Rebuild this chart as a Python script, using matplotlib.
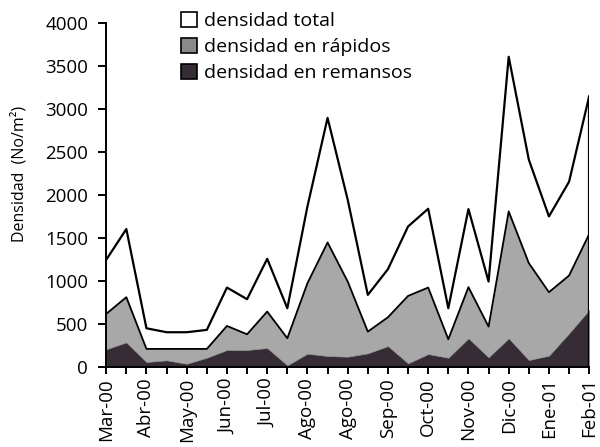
import numpy as np
import matplotlib.pyplot as plt
from matplotlib.patches import Patch

plt.rcParams['font.family'] = ['Open Sans', 'DejaVu Sans']

# fechas de muestreo (etiqueta cada dos muestras)
etiquetas = ['Mar-00', 'Abr-00', 'May-00', 'Jun-00', 'Jul-00', 'Ago-00', 'Ago-00',
             'Sep-00', 'Oct-00', 'Nov-00', 'Dic-00', 'Ene-01', 'Feb-01']

total = [1245, 1603, 450, 404, 404, 431, 923, 788, 1257, 683, 1866, 2895, 1944,
         838, 1137, 1633, 1839, 683, 1835, 993, 3605, 2409, 1750, 2153, 3147]
rapidos = [617, 811, 210, 210, 210, 210, 477, 380, 644, 334, 974, 1447, 993,
           411, 578, 826, 923, 322, 928, 469, 1808, 1207, 869, 1063, 1545]
remansos = [206, 287, 58, 78, 38, 108, 198, 198, 221, 20, 155, 128, 120,
            159, 244, 43, 151, 108, 334, 113, 334, 81, 132, 392, 663]

x = np.arange(len(total))

fig = plt.figure(figsize=(6, 4.47), dpi=100)
ax = fig.add_axes([0.177, 0.179, 0.805, 0.770])

ax.fill_between(x, 0, total, facecolor='white', edgecolor='none')
ax.plot(x, total, color='black', lw=1.6)
ax.vlines(x[-1], 0, total[-1], color='black', lw=1.6)
ax.fill_between(x, 0, rapidos, facecolor='#a8a8a8', edgecolor='none')
ax.plot(x, rapidos, color='black', lw=1.3)
ax.fill_between(x, 0, remansos, facecolor='#352c35', edgecolor='#9a9a9a', lw=0.5)

ax.set_xlim(0, len(total) - 1)
ax.set_ylim(0, 4000)
ax.set_yticks(np.arange(0, 4001, 500))
ax.set_xticks(x)
ax.set_xticklabels([etiquetas[i // 2] if i % 2 == 0 else '' for i in x], rotation=90)

for s in ['top', 'right']:
    ax.spines[s].set_visible(False)
ax.spines['left'].set_linewidth(1.4)
ax.spines['bottom'].set_linewidth(1.4)
ax.tick_params(axis='both', direction='out', width=1.4, labelsize=13.5, colors='black')
ax.tick_params(axis='x', length=5, pad=3)
ax.tick_params(axis='y', length=6, pad=7)

ax.set_ylabel('Densidad  (No/m²)', fontsize=11.5)
ax.yaxis.set_label_coords(-0.162, 0.56)

handles = [Patch(facecolor='white', edgecolor='black', lw=1.2),
           Patch(facecolor='#8a8a8a', edgecolor='black', lw=1.2),
           Patch(facecolor='#352c35', edgecolor='black', lw=1.2)]
labels = ['densidad total', 'densidad en rápidos', 'densidad en remansos']
fig.legend(handles, labels, loc='upper left', bbox_to_anchor=(0.273, 1.012),
           frameon=False, fontsize=14, handlelength=0.8, handleheight=0.8,
           handletextpad=0.35, labelspacing=0.4)

fig.savefig('out.png', dpi=100)
